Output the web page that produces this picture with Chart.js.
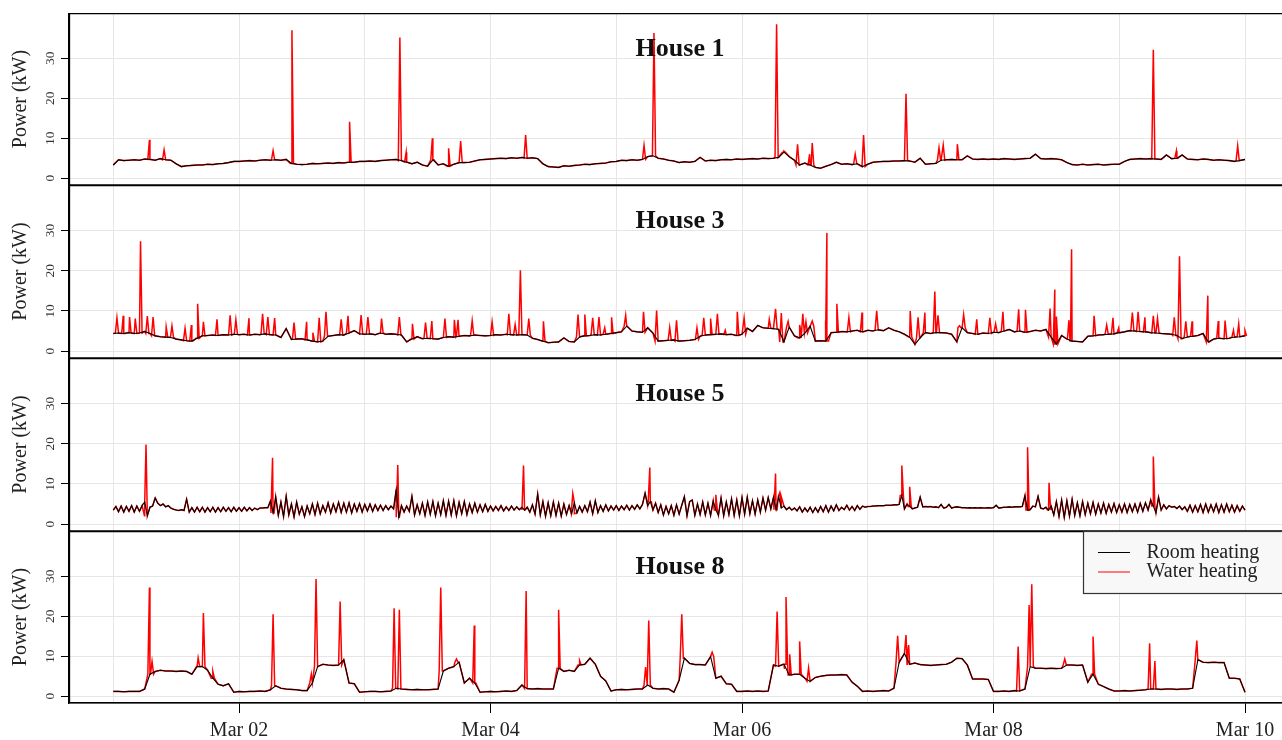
<!DOCTYPE html>
<html>
<head>
<meta charset="utf-8">
<title>Room and water heating power</title>
<script src="https://cdn.jsdelivr.net/npm/chart.js@4.4.1/dist/chart.umd.min.js"></script>
<style>
  html, body { margin: 0; padding: 0; background: #fff; }
  #wrap { position: relative; width: 1282px; height: 740px; overflow: hidden; }
  #wrap canvas { position: absolute; left: 0; }
</style>
</head>
<body>
<div id="wrap">
  <canvas id="p0" width="1282" height="172" style="top:13px"></canvas>
  <canvas id="p1" width="1282" height="173" style="top:185px"></canvas>
  <canvas id="p2" width="1282" height="173" style="top:358px"></canvas>
  <canvas id="p3" width="1282" height="209" style="top:531px"></canvas>
</div>
<script>
/* ── data (x in hours since Mar 01 00:00, y in kW) ── */
const DAY_LABELS = ['Mar 01', 'Mar 02', 'Mar 03', 'Mar 04', 'Mar 05', 'Mar 06', 'Mar 07', 'Mar 08', 'Mar 09', 'Mar 10'];
const LABELLED_DAYS = [1, 3, 5, 7, 9];
const Y_TICKS = [0, 10, 20, 30];
const HOUSES = ['House 1', 'House 3', 'House 5', 'House 8'];
const SERIES_NAMES = ['Room heating', 'Water heating'];
const SAMPLE_STEP = [1, 1, 0.5, 1];   // hours between room-heating samples

const room1 = [
  3.3, 4.6, 4.4, 4.5, 4.6, 4.5, 4.8, 4.7, 4.5, 4.9, 4.6, 4.5,
  3.6, 2.9, 3.1, 3.2, 3.3, 3.3, 3.5, 3.4, 3.6, 3.7, 3.9, 4.2,
  4.2, 4.3, 4.4, 4.3, 4.5, 4.6, 4.5, 4.6, 4.5, 4.7, 3.7, 3.5,
  3.4, 3.5, 3.7, 3.6, 3.7, 3.8, 3.7, 3.9, 3.8, 4.0, 4.0, 4.2,
  4.2, 4.3, 4.2, 4.4, 4.5, 4.6, 4.7, 4.4, 4.0, 3.6, 4.0, 3.3,
  3.0, 4.6, 3.3, 3.6, 3.0, 3.5, 3.9, 3.9, 4.0, 4.3, 4.6, 4.7,
  4.8, 4.9, 5.0, 4.9, 5.1, 5.0, 5.2, 5.0, 5.1, 4.9, 3.6, 2.9,
  2.8, 2.7, 3.1, 3.0, 3.2, 3.3, 3.5, 3.4, 3.6, 3.7, 3.8, 4.1,
  4.2, 4.5, 4.4, 4.6, 4.5, 4.7, 5.4, 5.6, 5.0, 4.8, 4.5, 4.3,
  3.9, 4.1, 4.0, 4.2, 5.2, 4.3, 4.5, 4.4, 4.6, 4.7, 4.6, 4.8,
  4.7, 4.8, 4.9, 4.8, 5.0, 4.9, 5.0, 5.2, 6.5, 5.4, 4.5, 3.3,
  3.8, 3.3, 2.7, 2.5, 3.0, 3.4, 4.0, 3.5, 3.6, 3.4, 3.6, 2.9,
  3.5, 4.0, 4.1, 4.2, 4.2, 4.3, 4.3, 4.4, 4.3, 4.0, 5.0, 3.5,
  3.6, 3.7, 4.5, 4.6, 4.7, 4.6, 4.6, 5.6, 4.8, 4.7, 4.8, 4.7,
  4.8, 4.7, 4.9, 4.8, 4.7, 4.8, 4.9, 5.0, 6.0, 4.9, 4.8, 4.9,
  4.8, 4.6, 3.9, 3.4, 3.3, 3.5, 3.3, 3.4, 3.5, 3.3, 3.4, 3.5,
  3.5, 4.2, 4.7, 4.8, 4.9, 4.8, 4.9, 4.8, 4.7, 5.8, 4.9, 5.0,
  5.8, 4.8, 4.7, 4.6, 4.8, 4.7, 4.5, 4.6, 4.5, 4.4, 4.2, 4.4,
  4.7
];
const water1 = [
  [6.9, 9.6], [9.7, 7.1], [30.5, 6.9], [34.1, 37.0], [45.1, 14.1], [54.7, 35.2], [55.9, 6.5],
  [60.9, 10.0], [64.0, 7.5], [66.3, 9.3], [78.7, 10.8], [101.3, 8.2], [103.2, 36.3], [126.6, 38.5],
  [128.0, 6.8], [130.6, 8.5], [132.9, 6.0], [133.4, 8.8], [141.6, 6.0], [143.2, 10.8], [151.3, 21.1],
  [157.6, 7.6], [158.4, 8.3], [161.1, 8.5], [198.5, 32.1], [202.9, 6.8], [214.6, 8.1]
];

const room3 = [
  4.4, 4.5, 4.4, 4.6, 4.4, 4.5, 4.9, 4.4, 3.8, 3.6, 3.5, 3.4,
  3.0, 2.8, 2.6, 2.5, 3.2, 3.8, 3.9, 4.0, 3.9, 4.1, 4.0, 4.2,
  4.1, 4.2, 4.0, 4.2, 4.1, 4.3, 4.1, 4.0, 3.4, 5.6, 2.9, 3.0,
  3.1, 2.8, 2.5, 2.3, 2.5, 3.7, 3.9, 4.1, 4.0, 4.5, 5.1, 4.3,
  4.2, 4.3, 4.1, 4.5, 4.2, 4.3, 4.2, 4.0, 2.3, 3.0, 3.6, 3.1,
  3.2, 3.1, 3.0, 3.4, 3.6, 3.5, 3.7, 3.9, 3.8, 4.0, 3.9, 3.8,
  3.9, 4.1, 4.0, 4.2, 4.1, 4.0, 4.1, 4.0, 3.2, 2.9, 2.5, 2.1,
  2.2, 2.3, 3.3, 2.4, 2.3, 3.5, 3.8, 3.9, 4.1, 4.0, 4.2, 4.4,
  4.6, 4.8, 6.2, 5.0, 4.8, 4.7, 5.8, 4.5, 2.5, 2.6, 2.7, 2.8,
  2.5, 2.6, 2.7, 2.9, 3.7, 4.0, 4.1, 4.2, 4.3, 4.1, 4.2, 3.9,
  4.2, 5.7, 4.9, 6.4, 5.8, 5.7, 5.6, 5.4, 2.3, 6.0, 3.8, 3.3,
  4.5, 6.2, 2.5, 2.6, 2.5, 4.6, 4.7, 4.9, 4.8, 5.0, 5.2, 4.8,
  5.2, 5.0, 5.3, 5.1, 5.8, 5.2, 4.8, 4.2, 3.5, 1.7, 3.3, 4.6,
  4.4, 4.6, 4.6, 4.5, 4.2, 2.3, 5.8, 4.6, 4.4, 4.2, 4.5, 4.4,
  4.7, 4.6, 5.0, 5.4, 4.8, 5.0, 4.7, 4.9, 5.2, 5.0, 5.4, 3.5,
  1.8, 3.9, 3.0, 2.5, 2.4, 2.3, 3.7, 3.8, 4.0, 4.1, 4.2, 4.3,
  4.6, 4.8, 5.1, 5.0, 4.9, 4.8, 4.6, 4.5, 4.4, 4.3, 4.2, 3.9,
  3.1, 3.5, 3.7, 3.9, 4.4, 2.3, 3.0, 3.2, 3.1, 3.2, 3.5, 3.6,
  3.8
];
const water3 = [
  [0.7, 8.3], [1.9, 8.8], [3.1, 8.5], [4.2, 8.1], [5.2, 27.3], [6.5, 8.7], [7.6, 8.5], [10.1, 6.0],
  [11.2, 6.3], [13.7, 5.7], [14.9, 6.5], [16.1, 11.8], [17.2, 7.3], [19.8, 7.9], [22.3, 8.9], [23.4, 7.8],
  [25.9, 8.2], [28.5, 9.3], [29.5, 8.5], [30.8, 8.2], [34.5, 7.1], [36.9, 7.3], [38.1, 4.6], [39.3, 8.3],
  [40.6, 9.8], [43.5, 7.9], [44.8, 8.8], [47.3, 9.0], [48.6, 8.5], [51.2, 8.1], [54.6, 8.5], [57.1, 6.8],
  [59.6, 7.1], [60.8, 7.5], [63.3, 8.1], [65.1, 7.8], [65.8, 7.8], [68.5, 7.6], [72.3, 7.3], [75.5, 9.3],
  [76.7, 6.6], [77.7, 20.1], [79.3, 8.1], [82.1, 7.4], [88.7, 9.1], [90.0, 9.1], [91.5, 8.3], [92.7, 8.5],
  [93.8, 5.8], [95.1, 8.4], [97.8, 8.9], [101.2, 9.8], [103.7, 10.1], [106.2, 5.9], [107.5, 7.7], [111.4, 5.8],
  [112.7, 8.3], [114.0, 8.1], [115.3, 9.3], [116.8, 5.2], [119.1, 9.8], [120.4, 8.3], [125.2, 7.9], [126.4, 10.5],
  [127.5, 9.5], [128.8, 7.4], [131.0, 6.5], [131.6, 9.3], [132.2, 7.3], [133.4, 7.5], [135.9, 7.6], [136.2, 29.4],
  [138.1, 11.8], [140.4, 8.4], [142.9, 9.6], [145.7, 10.0], [152.1, 10.0], [153.6, 8.4], [154.9, 9.6], [156.8, 14.8],
  [157.4, 8.9], [161.5, 6.3], [162.3, 9.1], [164.8, 7.9], [167.3, 8.3], [168.4, 6.8], [169.8, 9.8], [172.8, 10.4],
  [174.1, 10.3], [178.8, 10.6], [179.7, 15.3], [180.0, 8.6], [182.4, 7.7], [182.9, 25.3], [187.2, 8.8], [189.6, 6.5],
  [190.8, 8.3], [191.9, 5.8], [194.5, 9.6], [195.6, 9.8], [196.9, 8.4], [198.5, 8.8], [199.3, 8.1], [202.5, 8.4],
  [203.5, 23.6], [204.7, 7.4], [205.9, 7.4], [208.9, 13.8], [210.9, 7.5], [212.2, 7.6], [213.8, 5.2], [214.8, 6.8],
  [216.0, 5.1]
];

// half-hourly samples
const room5 = [
  3.5, 4.4, 3.1, 4.5, 3.0, 4.4, 3.2, 4.6, 3.0, 4.5, 3.2, 4.6, 5.5, 2.1, 4.2, 4.5, 6.5, 5.2, 4.6, 5.0, 4.3, 4.6, 4.0, 3.7,
  3.5, 3.4, 3.6, 3.4, 6.2, 3.0, 4.1, 3.0, 4.2, 3.1, 4.2, 3.0, 4.1, 3.1, 4.2, 3.0, 4.1, 3.1, 4.2, 3.2, 4.1, 3.1, 4.2, 3.2,
  4.1, 3.2, 4.2, 3.3, 4.1, 3.4, 4.0, 3.6, 4.0, 4.0, 4.1, 4.1, 5.8, 2.8, 6.8, 2.2, 5.5, 1.9, 6.9, 2.3, 5.0, 1.8, 5.5, 2.5,
  4.3, 1.9, 4.5, 2.6, 5.0, 2.4, 5.2, 2.6, 4.6, 3.0, 5.3, 2.8, 5.0, 3.1, 5.4, 2.9, 5.2, 3.0, 5.3, 2.8, 5.0, 3.2, 5.1, 3.0,
  4.9, 3.3, 5.0, 3.2, 4.8, 3.4, 4.7, 3.4, 4.6, 3.6, 4.5, 3.8, 8.6, 1.7, 4.6, 3.0, 4.5, 3.2, 6.9, 2.3, 4.8, 2.6, 5.2, 2.2,
  5.5, 2.5, 5.6, 2.1, 5.2, 2.4, 5.8, 2.2, 5.7, 2.3, 5.8, 2.1, 5.4, 2.6, 5.6, 2.4, 5.0, 2.9, 5.2, 3.0, 4.8, 3.1, 4.9, 3.2,
  4.5, 3.3, 4.4, 3.4, 4.6, 3.3, 4.3, 3.4, 4.5, 3.5, 4.3, 3.6, 4.2, 3.5, 4.2, 3.0, 4.8, 2.5, 7.5, 2.3, 5.6, 2.0, 5.3, 2.1,
  5.5, 2.2, 5.2, 2.0, 5.0, 2.4, 4.6, 2.6, 5.3, 2.8, 4.4, 3.0, 4.6, 3.1, 5.5, 2.6, 5.8, 2.9, 4.6, 3.2, 4.8, 3.3, 4.5, 3.5,
  4.6, 3.4, 4.5, 3.6, 4.7, 3.5, 4.6, 3.7, 4.8, 3.8, 4.9, 7.7, 4.6, 5.6, 3.5, 5.2, 2.9, 4.8, 2.3, 4.4, 2.6, 4.6, 2.2, 4.8,
  2.5, 4.7, 6.8, 2.1, 5.6, 6.0, 2.2, 5.0, 2.4, 5.5, 2.3, 5.2, 2.2, 5.8, 3.5, 2.2, 6.5, 2.1, 5.5, 2.4, 6.3, 2.2, 6.0, 2.1,
  6.6, 2.5, 6.7, 2.6, 5.8, 2.5, 6.0, 3.0, 6.5, 3.5, 6.6, 3.8, 6.6, 3.6, 6.8, 4.0, 4.5, 3.6, 4.2, 3.5, 4.0, 3.3, 4.3, 3.0,
  4.0, 3.1, 4.2, 2.9, 4.1, 3.0, 4.4, 3.1, 4.6, 3.0, 4.5, 3.3, 4.8, 3.4, 4.2, 3.6, 4.7, 3.5, 4.4, 3.4, 4.6, 3.7, 4.5, 4.2,
  4.4, 4.4, 4.5, 4.5, 4.6, 4.6, 4.6, 4.7, 4.7, 4.7, 4.8, 4.8, 4.9, 7.1, 3.8, 5.0, 4.4, 3.8, 4.0, 4.2, 6.7, 4.3, 4.4, 4.3,
  4.4, 4.2, 4.3, 4.1, 4.9, 4.0, 4.2, 4.9, 4.0, 4.2, 4.3, 4.2, 4.1, 4.1, 4.0, 4.1, 4.0, 4.1, 4.0, 4.1, 4.0, 4.0, 4.1, 4.0,
  4.1, 4.7, 4.0, 4.1, 4.2, 4.2, 4.3, 4.2, 4.3, 4.3, 4.3, 4.4, 7.1, 3.5, 3.6, 4.5, 4.3, 6.9, 4.0, 3.8, 4.2, 3.5, 4.5, 2.3,
  5.6, 1.9, 6.0, 1.7, 5.8, 2.0, 6.2, 2.2, 5.3, 2.1, 5.6, 2.4, 5.2, 2.6, 5.4, 2.5, 5.0, 2.8, 5.2, 2.7, 4.9, 3.0, 5.1, 2.9,
  4.8, 3.0, 5.0, 2.9, 4.9, 3.1, 5.0, 3.0, 5.2, 3.2, 5.3, 3.5, 6.0, 4.5, 2.8, 6.7, 3.5, 4.8, 3.8, 4.6, 4.2, 4.4, 3.9, 4.5,
  3.6, 4.3, 3.2, 4.7, 3.0, 4.6, 3.1, 4.9, 2.9, 5.0, 3.0, 4.8, 3.1, 5.0, 2.9, 4.8, 3.0, 5.0, 3.1, 4.7, 3.0, 4.6, 3.2, 4.5,
  3.5
];
const water5 = [
  [6.25, 19.8], [30.4, 16.5], [54.3, 14.7], [78.3, 14.6], [87.7, 7.6], [102.4, 14.1], [115.0, 7.3],
  [126.4, 12.6], [127.2, 7.8], [150.5, 14.6], [152.0, 9.3], [174.5, 19.1], [178.6, 10.3], [198.5, 16.8]
];

const room8 = [
  1.2, 1.2, 1.1, 1.2, 1.2, 1.2, 1.8, 5.5, 6.2, 6.5, 6.3, 6.3,
  6.2, 6.3, 6.2, 5.5, 7.4, 7.4, 6.5, 4.5, 3.0, 2.6, 3.1, 1.0,
  1.2, 1.1, 1.2, 1.2, 1.3, 1.2, 1.6, 2.6, 2.0, 1.8, 1.7, 1.6,
  1.4, 1.4, 3.3, 7.4, 8.0, 7.8, 7.7, 7.8, 9.1, 3.3, 3.1, 1.0,
  1.1, 1.2, 1.2, 1.1, 1.2, 1.3, 2.0, 1.8, 1.7, 1.6, 1.7, 1.6,
  1.6, 1.7, 1.8, 6.3, 7.0, 7.4, 8.5, 3.3, 4.5, 3.3, 1.0, 1.1,
  1.2, 1.1, 1.2, 1.3, 1.2, 1.4, 2.8, 1.9, 1.8, 1.9, 1.8, 1.8,
  1.8, 7.0, 6.2, 6.5, 6.2, 7.8, 8.0, 9.5, 8.0, 5.0, 3.8, 1.3,
  1.6, 1.7, 1.6, 1.7, 1.8, 1.8, 2.8, 2.0, 1.8, 1.9, 1.8, 1.0,
  4.0, 9.5, 8.2, 7.9, 7.9, 7.8, 9.9, 4.5, 5.0, 3.1, 3.0, 1.2,
  1.2, 1.3, 1.2, 1.3, 1.2, 1.3, 7.8, 7.5, 8.0, 5.3, 5.5, 5.5,
  4.5, 3.7, 4.7, 5.0, 5.2, 5.3, 5.3, 5.4, 5.3, 3.5, 2.5, 1.2,
  1.3, 1.2, 1.3, 1.4, 1.3, 2.0, 8.5, 10.7, 8.0, 8.3, 7.9, 7.8,
  7.7, 7.8, 7.9, 8.0, 8.5, 9.5, 9.4, 7.8, 4.3, 4.3, 4.3, 4.2,
  1.2, 1.2, 1.3, 1.2, 1.4, 1.3, 1.8, 7.4, 7.0, 7.0, 6.9, 7.0,
  6.9, 7.0, 7.8, 7.8, 7.7, 7.8, 3.5, 5.5, 3.0, 2.4, 1.8, 1.3,
  1.3, 1.4, 1.3, 1.4, 1.5, 1.6, 1.8, 1.8, 1.7, 1.8, 1.8, 1.7,
  1.8, 1.8, 2.0, 9.1, 8.5, 8.4, 8.5, 8.4, 8.4, 4.5, 4.5, 4.3,
  1.0
];
const water8 = [
  [6.9, 27.2], [7.4, 8.7], [16.2, 9.6], [17.2, 20.8], [19.0, 6.2], [30.5, 20.5], [37.8, 5.5], [38.7, 29.3],
  [43.3, 23.7], [53.6, 22.0], [54.6, 21.6], [62.5, 27.2], [65.5, 9.3], [68.9, 17.7], [78.8, 26.3], [85.0, 21.6],
  [89.0, 8.9], [101.6, 7.3], [102.2, 18.9], [108.5, 20.5], [114.3, 11.0], [126.7, 21.2], [128.1, 6.8], [128.4, 24.8],
  [129.1, 10.5], [131.0, 13.7], [132.7, 7.0], [149.7, 15.1], [151.3, 15.3], [151.8, 12.8], [172.7, 12.4], [174.8, 22.8],
  [175.3, 28.0], [181.6, 9.3], [187.0, 14.9], [197.8, 13.2], [198.8, 8.8], [206.8, 13.9]
];

const ROOM = [room1, room3, room5, room8];
const WATER = [water1, water3, water5, water8];

/* ── look ── */
const FONT = 'Liberation Serif';
const GRID = '#e6e6e6';
const X_MIN = -8.45, X_MAX = 223.06;
const Y_MIN = -1.7, Y_MAX = 41.3;
const SPIKE_HALF = 0.3;

Chart.defaults.font.family = FONT;
Chart.defaults.color = '#222';

function roomPoints(values, step) {
  return values.map((v, i) => ({ x: i * step, y: v }));
}

// red trace = room level with the water-heating spikes on top of it
function waterPoints(spikes, values, step) {
  const pts = roomPoints(values, step);
  spikes.forEach(([h, peak]) => {
    const base = values[Math.min(values.length - 1, Math.round(h / step))];
    pts.push({ x: h - SPIKE_HALF, y: base }, { x: h, y: peak }, { x: h + SPIKE_HALF, y: base });
  });
  return pts.sort((a, b) => a.x - b.x);
}

const dayTicks = scale => { scale.ticks = DAY_LABELS.map((_, i) => ({ value: i * 24 })); };
const isLabelled = v => LABELLED_DAYS.includes(Math.round(v / 24));
const noPad = s => { s.paddingTop = 0; s.paddingBottom = 0; s.paddingLeft = 0; s.paddingRight = 0; };

const panelDecor = {
  id: 'panelDecor',
  afterDraw(chart, args, opts) {
    const { ctx, chartArea: a } = chart;
    ctx.save();
    // frame lines (top, left, bottom)
    ctx.strokeStyle = '#000';
    ctx.lineWidth = 1.3;
    ctx.beginPath();
    ctx.moveTo(a.left, a.top + 0.6); ctx.lineTo(a.right, a.top + 0.6);
    ctx.moveTo(a.left, a.bottom - 0.1); ctx.lineTo(a.right, a.bottom - 0.1);
    ctx.moveTo(a.left + 0.5, a.top); ctx.lineTo(a.left + 0.5, a.bottom);
    ctx.stroke();
    // panel title
    ctx.fillStyle = '#111';
    ctx.font = 'bold 26px "' + FONT + '"';
    ctx.textAlign = 'center';
    ctx.textBaseline = 'alphabetic';
    ctx.fillText(opts.title, 680, a.top + 42.5);
    // legend in the last panel
    if (opts.legend) {
      const bx = 1083.5, by = a.top + 0.5, bw = 220, bh = 62;
      ctx.fillStyle = '#f8f8f8';
      ctx.fillRect(bx, by, bw, bh);
      ctx.strokeStyle = '#333';
      ctx.lineWidth = 1.2;
      ctx.strokeRect(bx, by, bw, bh);
      const rows = [{ c: '#000', y: by + 21 }, { c: '#ff0000', y: by + 40.5 }];
      ctx.font = '20px "' + FONT + '"';
      ctx.textAlign = 'left';
      ctx.textBaseline = 'middle';
      rows.forEach((r, i) => {
        ctx.strokeStyle = r.c;
        ctx.lineWidth = 1;
        ctx.beginPath();
        ctx.moveTo(1098, r.y); ctx.lineTo(1130, r.y);
        ctx.stroke();
        ctx.fillStyle = '#222';
        ctx.fillText(SERIES_NAMES[i], 1146.5, r.y);
      });
    }
    ctx.restore();
  }
};

HOUSES.forEach((name, p) => {
  const last = p === HOUSES.length - 1;
  const step = SAMPLE_STEP[p];
  const canvas = document.getElementById('p' + p);

  new Chart(canvas, {
    type: 'line',
    data: {
      datasets: [
        {
          label: SERIES_NAMES[0],
          data: roomPoints(ROOM[p], step),
          borderColor: '#000',
          borderWidth: 1.1,
          pointRadius: 0,
          tension: 0
        },
        {
          label: SERIES_NAMES[1],
          data: waterPoints(WATER[p], ROOM[p], step),
          borderColor: '#ff0000',
          borderWidth: 1.5,
          pointRadius: 0,
          tension: 0
        }
      ]
    },
    options: {
      responsive: false,
      animation: false,
      parsing: false,
      events: [],
      layout: { padding: 0 },
      plugins: {
        legend: { display: false },
        tooltip: { enabled: false },
        panelDecor: { title: name, legend: last }
      },
      scales: {
        x: {
          type: 'linear',
          min: X_MIN,
          max: X_MAX,
          afterBuildTicks: dayTicks,
          afterFit: s => { s.height = last ? 37 : 0; noPad(s); },
          border: { display: last, color: '#000', width: 1.3 },
          grid: {
            color: GRID,
            lineWidth: 1,
            drawTicks: last,
            tickLength: 10,
            tickColor: ctx => (ctx.tick && isLabelled(ctx.tick.value)) ? '#000' : 'rgba(0,0,0,0)'
          },
          ticks: {
            display: last,
            autoSkip: false,
            maxRotation: 0,
            padding: 6,
            color: '#222',
            font: { size: 20, family: FONT },
            callback: v => isLabelled(v) ? DAY_LABELS[Math.round(v / 24)] : ''
          }
        },
        y: {
          min: Y_MIN,
          max: Y_MAX,
          afterBuildTicks: s => { s.ticks = Y_TICKS.map(v => ({ value: v })); },
          afterFit: s => { s.width = 69; noPad(s); },
          border: { color: '#000', width: 1.3 },
          grid: { color: GRID, lineWidth: 1, tickLength: 8, tickColor: '#000' },
          ticks: {
            minRotation: 90,
            maxRotation: 90,
            crossAlign: 'center',
            padding: 4,
            color: '#333',
            font: { size: 13.5, family: FONT }
          },
          title: {
            display: true,
            text: 'Power (kW)',
            color: '#222',
            font: { size: 20, family: FONT },
            padding: { top: 9, bottom: 0 }
          }
        }
      }
    },
    plugins: [panelDecor]
  });
});
</script>
</body>
</html>
